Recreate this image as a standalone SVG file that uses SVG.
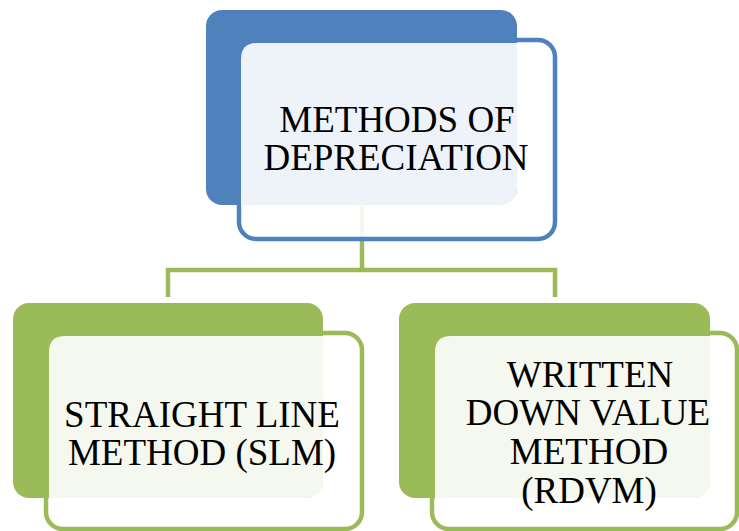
<svg xmlns="http://www.w3.org/2000/svg" width="739" height="531" viewBox="0 0 739 531">
<style>
.bg{fill:#fff}
.conn{fill:none;stroke:#9BBB59;stroke-width:4.5}
.outB{fill:#fff;fill-opacity:0.9;stroke:#4F81BD;stroke-width:4.5}
.outG{fill:#fff;fill-opacity:0.9;stroke:#9BBB59;stroke-width:4.5}
.backB{fill:#4F81BD}
.backG{fill:#9BBB59}
.ovB{fill:#fff;fill-opacity:0.9}
.ovG{fill:#fff;fill-opacity:0.9}
.t{font-family:'Times New Roman','Liberation Serif','DejaVu Serif','Noto Serif',Times,serif;font-size:37px;fill:#000;text-anchor:middle}
</style>
<rect class="bg" x="0" y="0" width="739" height="531"/>
<g id="connectors">
<path class="conn" d="M362 205 V270 M168 297 V270 H555 V297"/>
</g>
<g id="node-top">
<rect class="outB" x="239" y="40" width="316" height="199" rx="17"/>
<rect class="backB" x="206" y="10" width="311" height="195" rx="16"/>
<path class="ovB" d="M257 43 H517 V189 Q517 205 501 205 H241 V59 Q241 43 257 43 Z"/>
<text class="t" x="397" y="132">METHODS OF</text>
<text class="t" x="396" y="170">DEPRECIATION</text>
</g>
<g id="node-slm">
<rect class="outG" x="46" y="333" width="316" height="196" rx="17"/>
<rect class="backG" x="13" y="303" width="310" height="195" rx="16"/>
<path class="ovG" d="M65 336 H323 V482 Q323 498 307 498 H49 V352 Q49 336 65 336 Z"/>
<text class="t" x="202" y="427">STRAIGHT LINE</text>
<text class="t" x="202" y="465">METHOD (SLM)</text>
</g>
<g id="node-wdvm">
<rect class="outG" x="432" y="333" width="305" height="196" rx="17"/>
<rect class="backG" x="399" y="303" width="311" height="195" rx="16"/>
<path class="ovG" d="M451 336 H710 V482 Q710 498 694 498 H435 V352 Q435 336 451 336 Z"/>
<text class="t" x="590" y="387">WRITTEN</text>
<text class="t" x="588" y="425">DOWN VALUE</text>
<text class="t" x="589" y="464">METHOD</text>
<text class="t" x="589" y="503">(RDVM)</text>
</g>
</svg>
